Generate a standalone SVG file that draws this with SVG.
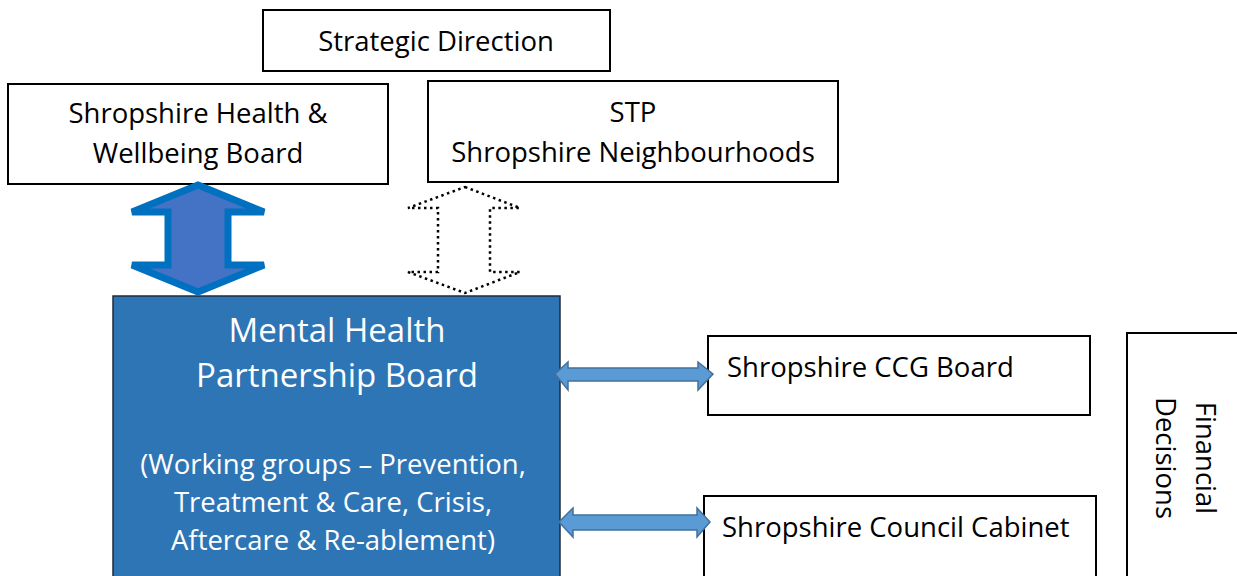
<svg xmlns="http://www.w3.org/2000/svg" width="1237" height="576" viewBox="0 0 1237 576">
  <style>
    .box { fill: #ffffff; stroke: #000000; stroke-width: 2; }
    .main { fill: #2E75B6; stroke: #1F2D3D; stroke-width: 1.5; }
    .t { font-family: "Open Sans", "Liberation Sans", sans-serif; font-size: 27.5px; fill: #000000; text-anchor: middle; }
    .tl { font-family: "Open Sans", "Liberation Sans", sans-serif; font-size: 27.5px; fill: #000000; }
    .w { font-family: "Open Sans", "Liberation Sans", sans-serif; fill: #ffffff; text-anchor: middle; }
    .dbl { fill: #5B9BD5; stroke: #41719C; stroke-width: 1.5; }
    .solid { fill: #4472C4; stroke: #0070C0; stroke-width: 7; stroke-linejoin: miter; }
    .dotted { fill: #ffffff; stroke: #000000; stroke-width: 2.5; stroke-dasharray: 2.5 3.5; }
  </style>

  <g id="strategic-direction">
    <rect class="box" x="263" y="10" width="347" height="61"/>
    <text class="t" x="436" y="51">Strategic Direction</text>
  </g>

  <g id="health-wellbeing-board">
    <rect class="box" x="8" y="84" width="380" height="100"/>
    <text class="t" x="198" y="123">Shropshire Health &amp;</text>
    <text class="t" x="198" y="163">Wellbeing Board</text>
  </g>

  <g id="stp">
    <rect class="box" x="428" y="81" width="410" height="101"/>
    <text class="t" x="633" y="122">STP</text>
    <text class="t" x="633" y="162">Shropshire Neighbourhoods</text>
  </g>

  <g id="mh-partnership-board">
    <rect class="main" x="113" y="296" width="447" height="285"/>
    <text class="w" x="337" y="342" font-size="33">Mental Health</text>
    <text class="w" x="337" y="387" font-size="33">Partnership Board</text>
    <text class="w" x="333" y="474" font-size="27.5">(Working groups – Prevention,</text>
    <text class="w" x="333" y="512" font-size="27.5">Treatment &amp; Care, Crisis,</text>
    <text class="w" x="333" y="550" font-size="27.5">Aftercare &amp; Re-ablement)</text>
  </g>

  <g id="ccg-board">
    <rect class="box" x="708" y="336" width="382" height="79"/>
    <text class="tl" x="727" y="377">Shropshire CCG Board</text>
  </g>

  <g id="council-cabinet">
    <rect class="box" x="704" y="496" width="392" height="90"/>
    <text class="tl" x="722" y="537">Shropshire Council Cabinet</text>
  </g>

  <g id="financial-decisions">
    <rect class="box" x="1127" y="333" width="120" height="250"/>
    <g transform="translate(1196 458) rotate(90)">
      <text class="t" x="0" y="0">Financial</text>
      <text class="t" x="0" y="40">Decisions</text>
    </g>
  </g>

  <g id="connectors">
    <!-- solid two-way link: Health & Wellbeing Board to Partnership Board -->
    <polygon class="solid" points="198,185 264,212 228,212 228,265 264,265 198,292 132,265 168,265 168,212 132,212"/>
    <!-- dotted two-way link: STP to Partnership Board -->
    <polygon class="dotted" points="465,187 520,208 490,208 490,272 520,272 465,293 408,272 438,272 438,208 408,208"/>
    <!-- CCG Board link -->
    <polygon class="dbl" points="555,374 568,362 568,368 698,368 698,362 713,374 698,390 698,381 568,381 568,390"/>
    <!-- Council Cabinet link -->
    <polygon class="dbl" points="559,522 573,508 573,515 697,515 697,508 710,522 697,537 697,530 573,530 573,537"/>
  </g>
</svg>
